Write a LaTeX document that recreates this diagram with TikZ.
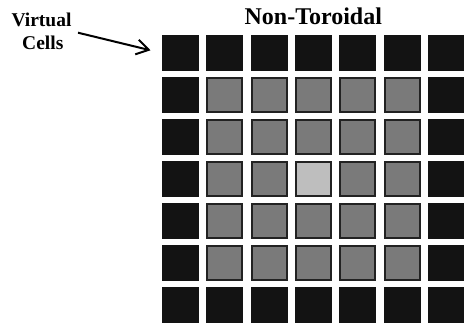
\documentclass[tikz,border=0pt]{standalone}
\usepackage{fontspec}
\setmainfont{Liberation Serif}
\usetikzlibrary{arrows.meta}
\definecolor{cellblack}{HTML}{131313}
\definecolor{cellgray}{HTML}{7A7A7A}
\definecolor{cellborder}{HTML}{222222}
\definecolor{celllight}{HTML}{BEBEBE}
\begin{document}
\begin{tikzpicture}[x=1pt,y=-1pt,
  virt/.style={fill=cellblack, draw=none, minimum width=37pt, minimum height=36pt, inner sep=0pt, outer sep=0pt},
  inner/.style={fill=cellgray, draw=cellborder, line width=2pt, minimum width=35pt, minimum height=34pt, inner sep=0pt, outer sep=0pt},
  focus/.style={inner, fill=celllight},
  lbl/.style={font=\bfseries\fontsize{19.5}{22}\selectfont, anchor=base, inner sep=0pt},
  ttl/.style={font=\bfseries\fontsize{24}{28}\selectfont, anchor=base, inner sep=0pt},
  pointer/.style={line width=2pt, -{Straight Barb[length=12pt,width=15pt,line width=2pt]}}]
\useasboundingbox (0,0) rectangle (464,325);
\fill[white] (0,0) rectangle (464,325);
\foreach \i in {0,...,6}{
  \foreach \j in {0,...,6}{
    \pgfmathtruncatemacro{\edge}{(\i==0)||(\i==6)||(\j==0)||(\j==6)}
    \pgfmathtruncatemacro{\mid}{(\i==3)&&(\j==3)}
    \ifnum\edge=1
      \node[virt] (c-\i-\j) at ({180.2+44.43*\i},{53+42*\j}) {};
    \else\ifnum\mid=1
      \node[focus] (c-\i-\j) at ({180.2+44.43*\i},{53+42*\j}) {};
    \else
      \node[inner] (c-\i-\j) at ({180.2+44.43*\i},{53+42*\j}) {};
    \fi\fi
  }
}
\node[ttl] (title) at (313.3,24) {Non-Toroidal};
\node[lbl] (vc1) at (41.5,26.7) {Virtual};
\node[lbl] (vc2) at (42.8,49) {Cells};
\coordinate (as) at (78,32.7);
\draw[pointer, shorten >=11.5pt] (as) -- (c-0-0.west);
\end{tikzpicture}
\end{document}
